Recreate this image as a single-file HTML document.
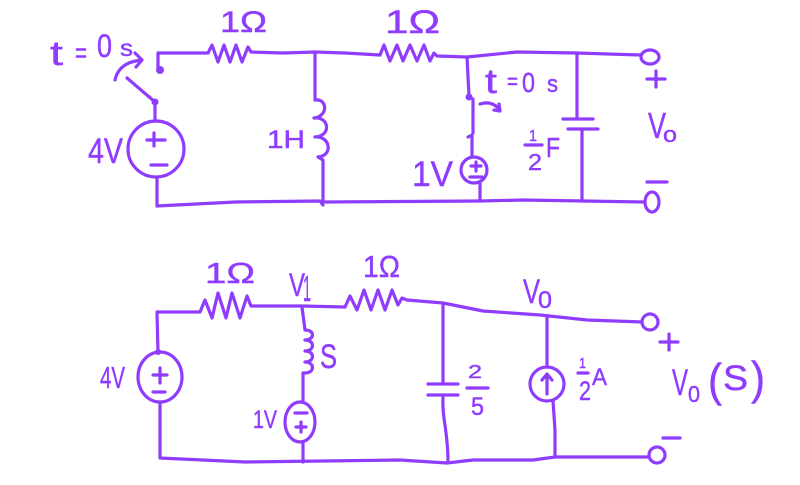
<!DOCTYPE html>
<html><head><meta charset="utf-8"><style>
html,body{margin:0;padding:0;background:#fff;}
svg{display:block;}
text{font-family:"Liberation Sans",sans-serif;fill:#8f3cff;stroke:#8f3cff;stroke-width:0.45;}
</style></head><body>
<svg width="800" height="485" viewBox="0 0 800 485" xmlns="http://www.w3.org/2000/svg">
<rect width="800" height="485" fill="#fff"/>
<g fill="none" stroke="#8f3cff" stroke-width="3.2" stroke-linecap="round" stroke-linejoin="round">
<!-- TOP CIRCUIT -->
<path d="M158,68 L158,53 L208,53"/>
<path d="M208,53 L212,45 L218,62 L224,45 L230,62 L236,45 L242,62 L248,47 L251,52 L283,53 L315,52 L345,53 L380,55"/>
<path d="M380,55 L384,45 L390,61 L397,45 L403,61 L410,45 L417,61 L424,45 L430,61 L434,53 L437,56 L467,57 L517,52 L577,53 L641,55"/>
<ellipse cx="650" cy="57" rx="9" ry="7"/>
<path d="M315,52 L315,100 C327,98 329,116 314,118 C329,116 332,136 315,137 C331,136 333,156 318,157 L323,160 L323,202"/>
<path d="M157,178 L157,206 L235,202 L320,201 L323,205"/>
<path d="M325,202 L480,201 L523,200 L583,201 L644,202"/>
<ellipse cx="652" cy="202" rx="7" ry="10"/>
<path d="M127,78 L155,102 L155,121"/>
<circle cx="156" cy="149" r="28"/>
<path d="M154,133 L154,146 M147,140 L165,140 M151,165 L167,165"/>
<path d="M115,80 Q119,62 142,60 M135,53 L142,60 L136,67"/>
<path d="M467,57 L469,96 M473,99 L473,133 M468,137 L472,135 L472,157"/>
<circle cx="474" cy="170" r="13"/>
<path d="M476,162 L476,171 M471,166 L481,166 M470,177 L482,177"/>
<path d="M480,183 L480,201"/>
<path d="M480,104 Q492,100 500,110 M494,110 L500,111 L499,104"/>
<path d="M577,53 L577,119 M563,119 L593,119 M568,129 L598,129 M582,129 L582,201"/>
<path d="M525,145 L542,145"/>
<path d="M647,79 L665,79 M656,71 L656,87 M647,182 L667,182"/>
<!-- BOTTOM CIRCUIT -->
<path d="M158,352 L157,312 L200,312 L205,300 L212,318 L218,293 L226,318 L232,293 L240,318 L247,296 L251,306 L302,306 L345,307"/>
<path d="M345,307 L350,296 L357,310 L364,290 L371,310 L378,290 L385,310 L392,290 L398,305 L402,298 L407,300 L443,303 L483,311 L540,315 L587,320 L642,322"/>
<circle cx="650" cy="322" r="8"/>
<path d="M302,307 L305,330 C315,330 315,340 305,340 C315,340 315,351 305,351 C315,351 315,362 305,362 C315,362 315,373 305,373 L303,373 L303,402"/>
<ellipse cx="300" cy="422" rx="15" ry="20"/>
<path d="M295,413 L307,413 M301,422 L301,432 M296,427 L306,427"/>
<path d="M303,442 L303,462"/>
<path d="M160,402 L160,458 L245,462 L400,460 L447,463 L473,460 L533,460 L555,457 L649,457"/>
<circle cx="657" cy="455" r="8"/>
<ellipse cx="160" cy="377" rx="22" ry="25"/>
<path d="M160,368 L160,383 M153,375 L167,375 M153,392 L165,392"/>
<path d="M443,303 L443,384 M428,384 L458,384 M428,395 L458,395 M443,397 C442,420 448,430 448,462"/>
<path d="M467,388 L488,388"/>
<path d="M547,317 L547,367"/>
<circle cx="547" cy="384" r="17"/>
<path d="M547,394 L547,375 M542,380 L547,374 L552,380"/>
<path d="M553,401 L555,430 L555,457"/>
<path d="M578,373 L588,373"/>
<path d="M660,342 L678,342 M669,334 L669,350 M663,438 L680,438"/>
</g>
<g fill="#8f3cff">
<circle cx="160" cy="70" r="4"/>
<circle cx="155" cy="102" r="3.5"/>
<circle cx="469" cy="97" r="3.5"/>
<circle cx="158" cy="352" r="3"/>
</g>
<!-- TOP TEXT -->
<text x="50" y="65" font-size="34" textLength="13" lengthAdjust="spacingAndGlyphs">t</text>
<text x="75" y="62" font-size="28" textLength="12" lengthAdjust="spacingAndGlyphs">=</text>
<text x="97" y="57" font-size="32" textLength="15" lengthAdjust="spacingAndGlyphs">0</text>
<text x="120" y="56" font-size="23" textLength="13" lengthAdjust="spacingAndGlyphs">s</text>
<text x="220" y="32" font-size="30" textLength="47" lengthAdjust="spacingAndGlyphs">1Ω</text>
<text x="385" y="33" font-size="32" textLength="55" lengthAdjust="spacingAndGlyphs">1Ω</text>
<text x="267" y="148" font-size="25" textLength="38" lengthAdjust="spacingAndGlyphs">1H</text>
<text x="88" y="163" font-size="35" textLength="35" lengthAdjust="spacingAndGlyphs">4V</text>
<text x="412" y="186" font-size="35" textLength="41" lengthAdjust="spacingAndGlyphs">1V</text>
<text x="485" y="93" font-size="34" textLength="12" lengthAdjust="spacingAndGlyphs">t</text>
<text x="507" y="89" font-size="22" textLength="11" lengthAdjust="spacingAndGlyphs">=</text>
<text x="522" y="92" font-size="28" textLength="13" lengthAdjust="spacingAndGlyphs">0</text>
<text x="547" y="92" font-size="24" textLength="11" lengthAdjust="spacingAndGlyphs">s</text>
<text x="529" y="141" font-size="16" textLength="8" lengthAdjust="spacingAndGlyphs">1</text>
<text x="528" y="170" font-size="23" textLength="14" lengthAdjust="spacingAndGlyphs">2</text>
<text x="546" y="157" font-size="28" textLength="14" lengthAdjust="spacingAndGlyphs">F</text>
<text x="648" y="138" font-size="36" textLength="18" lengthAdjust="spacingAndGlyphs">V</text>
<text x="663" y="142" font-size="22" textLength="14" lengthAdjust="spacingAndGlyphs">o</text>
<!-- BOTTOM TEXT -->
<text x="205" y="283" font-size="29" textLength="50" lengthAdjust="spacingAndGlyphs">1Ω</text>
<text x="363" y="277" font-size="31" textLength="37" lengthAdjust="spacingAndGlyphs">1Ω</text>
<text x="289" y="296" font-size="32" textLength="16" lengthAdjust="spacingAndGlyphs">V</text>
<text x="303" y="301" font-size="36" textLength="8" lengthAdjust="spacingAndGlyphs">1</text>
<text x="320" y="368" font-size="34" textLength="17" lengthAdjust="spacingAndGlyphs">S</text>
<text x="100" y="388" font-size="31" textLength="25" lengthAdjust="spacingAndGlyphs">4V</text>
<text x="253" y="428" font-size="25" textLength="24" lengthAdjust="spacingAndGlyphs">1V</text>
<text x="468" y="378" font-size="18" textLength="14" lengthAdjust="spacingAndGlyphs">2</text>
<text x="471" y="415" font-size="25" textLength="13" lengthAdjust="spacingAndGlyphs">5</text>
<text x="579" y="368" font-size="15" textLength="7" lengthAdjust="spacingAndGlyphs">1</text>
<text x="579" y="400" font-size="27" textLength="12" lengthAdjust="spacingAndGlyphs">2</text>
<text x="592" y="385" font-size="24" textLength="15" lengthAdjust="spacingAndGlyphs">A</text>
<text x="523" y="303" font-size="34" textLength="17" lengthAdjust="spacingAndGlyphs">V</text>
<text x="538" y="308" font-size="24" textLength="14" lengthAdjust="spacingAndGlyphs">0</text>
<text x="672" y="395" font-size="37" textLength="16" lengthAdjust="spacingAndGlyphs">V</text>
<text x="688" y="402" font-size="23" textLength="12" lengthAdjust="spacingAndGlyphs">0</text>
<text x="708" y="396" font-size="46" textLength="14" lengthAdjust="spacingAndGlyphs">(</text>
<text x="723" y="390" font-size="35" textLength="25" lengthAdjust="spacingAndGlyphs">S</text>
<text x="751" y="394" font-size="46" textLength="14" lengthAdjust="spacingAndGlyphs">)</text>
</svg>
</body></html>
